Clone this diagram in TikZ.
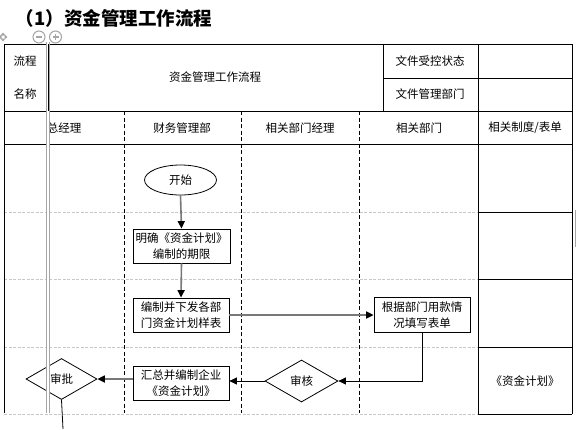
\documentclass[tikz,border=0pt]{standalone}
\usepackage{fontspec}
\setmainfont{Noto Sans CJK SC}
\usetikzlibrary{shapes.geometric,arrows.meta}
\definecolor{gridgray}{RGB}{200,200,200}
\definecolor{linegray}{RGB}{120,120,120}
\definecolor{bargray}{RGB}{165,165,165}
\tikzset{
  txt/.style={font=\fontsize{11.5}{15}\selectfont, inner sep=0pt},
  procbox/.style={draw=black, line width=0.8pt, rectangle, minimum width=96pt, minimum height=34pt, inner sep=0pt, align=center, font=\fontsize{11.5}{15.5}\selectfont},
  decbox/.style={draw=black, line width=0.8pt, diamond, inner sep=0pt, font=\fontsize{11.5}{15}\selectfont},
  startbox/.style={draw=black, line width=0.8pt, ellipse, minimum width=72pt, minimum height=30pt, inner sep=0pt, font=\fontsize{11.5}{15}\selectfont},
  grayarrow/.style={draw=linegray, line width=1.6pt, -{Triangle[length=7.5pt,width=7pt,color=black]}},
  blackarrow/.style={draw=black, line width=0.8pt, -{Triangle[length=7.5pt,width=7pt,color=black]}},
  tableline/.style={draw=black, line width=0.8pt},
  laneline/.style={draw=black, line width=0.8pt, dash pattern=on 4pt off 2.5pt},
  gridline/.style={draw=gridgray, line width=0.7pt, dash pattern=on 3pt off 1.5pt},
  iconcirc/.style={circle, draw=bargray, line width=1pt, minimum size=12pt, inner sep=0pt, fill=white},
}
\begin{document}
\begin{tikzpicture}[x=1pt,y=-1pt]
\useasboundingbox (0,0) rectangle (576,429);
\fill[white] (0,0) rectangle (576,429);

% title
\node[inner sep=0pt, font=\fontsize{18.5}{20}\selectfont\bfseries] (title) at (114,18) {（1）资金管理工作流程};

% gray grid lines
\foreach \yy in {212,279,347,414} \draw[gridline] (4,\yy) -- (478,\yy);

% lane dashed lines
\foreach \xx in {124,241,359} \draw[laneline] (\xx,111) -- (\xx,413);

% table frame
\draw[tableline] (4,44) -- (572,44);
\draw[tableline] (4,111) -- (572,111);
\draw[tableline] (4,144) -- (572,144);
\draw[tableline] (4,44) -- (4,413);
\draw[tableline] (572,44) -- (572,414);
\draw[tableline] (478,44) -- (478,414);
\draw[tableline] (383,44) -- (383,111);
\draw[tableline] (383,78) -- (572,78);
\foreach \yy in {212,279,347,414} \draw[tableline] (478,\yy) -- (572,\yy);
\draw[draw=bargray, line width=0.8pt] (575,210) -- (575,247);

% table texts
\node[txt] (lc) at (25,61) {流程};
\node[txt] (mc) at (25,94) {名称};
\node[txt] (pname) at (215,77) {资金管理工作流程};
\node[txt] (ctrl) at (430,61) {文件受控状态};
\node[txt] (mgr) at (430,94) {文件管理部门};
\node[txt] (h1) at (64,128) {总经理};
\node[txt] (h2) at (182,128) {财务管理部};
\node[txt] (h3) at (300,128) {相关部门经理};
\node[txt] (h4) at (419,128) {相关部门};
\node[txt] (h5) at (525,128) {相关制度/表单};
\node[txt] (form) at (525,381) {《资金计划》};

% flow nodes
\node[startbox] (start) at (180.5,180) {开始};
\node[procbox, minimum width=97pt] (b1) at (181.5,246) {明确《资金计划》\\编制的期限};
\node[procbox] (b2) at (181,315) {编制并下发各部\\门资金计划样表};
\node[procbox, minimum height=35pt] (b3) at (422,315) {根据部门用款情\\况填写表单};
\node[procbox] (b4) at (181,383) {汇总并编制企业\\《资金计划》};
\node[decbox, minimum width=73pt, minimum height=42pt] (sh) at (301.5,381) {审核};
\node[decbox, minimum width=71pt, minimum height=41pt] (sp) at (61.5,379) {审批};
\coordinate (endpt) at (63,429);

% connectors
\draw[grayarrow] (start.south) -- (b1.north);
\draw[grayarrow] (b1.south) -- (b2.north);
\draw[grayarrow] (b2.east) -- (b3.west);
\draw[blackarrow] (b3.south) |- (sh.east);
\draw[blackarrow] (sh.west) -- (sh.west -| b4.east);
\draw[grayarrow] (b4.west |- sp.east) -- (sp.east);
\draw[tableline] (sp.south) -- (endpt);

% editor artifacts: double gray bar and icons
\fill[white] (46,40) rectangle (49,413);
\draw[draw=bargray, line width=0.8pt] (46,42) -- (46,413);
\draw[draw=bargray, line width=0.8pt] (49,42) -- (49,413);
\draw[tableline] (48,44) -- (48,111);
\node[iconcirc] (minus) at (39,37) {};
\draw[draw=bargray, line width=1.2pt] ([xshift=-3pt]minus.center) -- ([xshift=3pt]minus.center);
\node[iconcirc] (plus) at (55.5,37) {};
\draw[draw=bargray, line width=1.2pt] ([xshift=-3pt]plus.center) -- ([xshift=3pt]plus.center);
\draw[draw=bargray, line width=1.2pt] ([yshift=-3pt]plus.center) -- ([yshift=3pt]plus.center);
\coordinate (handle) at (3,37);
\fill[bargray] ([xshift=-4.5pt]handle) -- ([xshift=-1.5pt,yshift=-2.5pt]handle) -- ([xshift=-1.5pt,yshift=2.5pt]handle) -- cycle;
\fill[bargray] ([xshift=4.5pt]handle) -- ([xshift=1.5pt,yshift=-2.5pt]handle) -- ([xshift=1.5pt,yshift=2.5pt]handle) -- cycle;
\fill[bargray] ([yshift=-4.5pt]handle) -- ([xshift=-2.5pt,yshift=-1.5pt]handle) -- ([xshift=2.5pt,yshift=-1.5pt]handle) -- cycle;
\fill[bargray] ([yshift=4.5pt]handle) -- ([xshift=-2.5pt,yshift=1.5pt]handle) -- ([xshift=2.5pt,yshift=1.5pt]handle) -- cycle;
\end{tikzpicture}
\end{document}
